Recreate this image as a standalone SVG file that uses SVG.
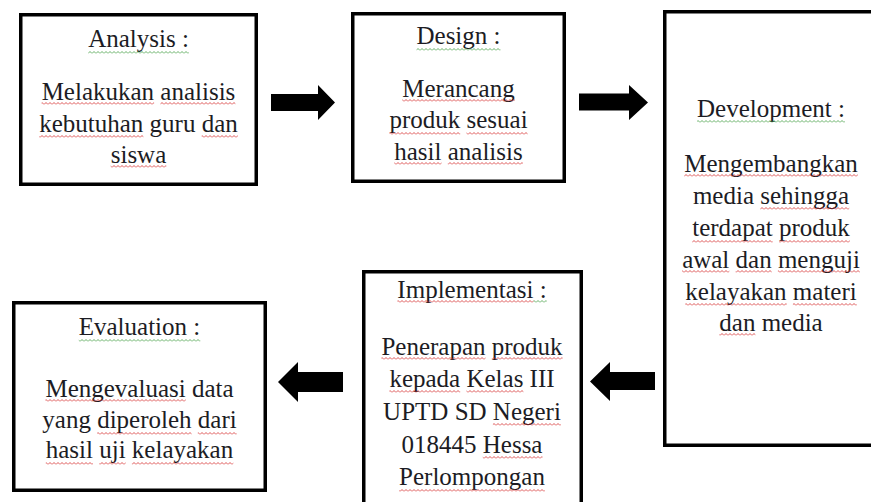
<svg xmlns="http://www.w3.org/2000/svg" width="871" height="502" viewBox="0 0 871 502">
<defs>
<pattern id="wr" patternUnits="userSpaceOnUse" x="0" y="0" width="4" height="3"><path d="M0,2.5 L2,0.5 L4,2.5" fill="none" stroke="#d42a2a" stroke-width="0.8"/></pattern>
<pattern id="wg" patternUnits="userSpaceOnUse" x="0" y="0" width="4" height="3"><path d="M0,2.5 L2,0.5 L4,2.5" fill="none" stroke="#3f9a3f" stroke-width="0.8"/></pattern>
</defs>
<style>
.box{fill:#fff;stroke:#000;stroke-width:3.5}
.t{font-family:'Liberation Serif','Times New Roman',serif;font-size:25px;fill:#1c1c24;text-anchor:middle}
.r{fill:url(#wr)}
.g{fill:url(#wg)}
.arrow{fill:#000}
</style>
<rect width="871" height="502" fill="#fff"/>
<g id="analysis">
<rect class="box" x="20.75" y="14.75" width="235.5" height="169.5"/>
<text class="t" x="138.5" y="47">Analysis :</text>
<text class="t" x="138.5" y="100">Melakukan analisis</text>
<text class="t" x="138.5" y="132">kebutuhan guru dan</text>
<text class="t" x="138.5" y="163">siswa</text>
<rect class="g" x="88.2" y="51" width="100.7" height="3"/>
<rect class="r" x="41.6" y="102" width="112.5" height="3"/>
<rect class="r" x="160.4" y="102" width="75" height="3"/>
<rect class="r" x="39.2" y="135" width="104.2" height="3"/>
<rect class="r" x="201.7" y="135" width="36.1" height="3"/>
<rect class="r" x="110.7" y="165" width="55.6" height="3"/>
</g>
<g id="design">
<rect class="box" x="352.75" y="13.75" width="211.5" height="167.5"/>
<text class="t" x="458.5" y="44">Design :</text>
<text class="t" x="458.5" y="97">Merancang</text>
<text class="t" x="458.5" y="128">produk sesuai</text>
<text class="t" x="458.5" y="160">hasil analisis</text>
<rect class="g" x="416.5" y="48" width="84" height="3"/>
<rect class="r" x="402.3" y="99" width="112.5" height="3"/>
<rect class="r" x="389.4" y="132" width="70.8" height="3"/>
<rect class="r" x="466.5" y="132" width="61.1" height="3"/>
<rect class="r" x="394.3" y="162" width="47.2" height="3"/>
<rect class="r" x="447.8" y="162" width="75" height="3"/>
</g>
<g id="development">
<rect class="box" x="664.75" y="11.75" width="215" height="433.5"/>
<text class="t" x="771" y="117">Development :</text>
<text class="t" x="771" y="172">Mengembangkan</text>
<text class="t" x="771" y="204">media sehingga</text>
<text class="t" x="771" y="236">terdapat produk</text>
<text class="t" x="771" y="268">awal dan menguji</text>
<text class="t" x="771" y="300">kelayakan materi</text>
<text class="t" x="771" y="331">dan media</text>
<rect class="g" x="697.1" y="120" width="147.9" height="3"/>
<rect class="r" x="684.2" y="174" width="173.6" height="3"/>
<rect class="r" x="760.3" y="207" width="88.9" height="3"/>
<rect class="r" x="692.2" y="240" width="80.5" height="3"/>
<rect class="r" x="779" y="240" width="70.8" height="3"/>
<rect class="r" x="682.1" y="270" width="47.2" height="3"/>
<rect class="r" x="735.6" y="270" width="36.1" height="3"/>
<rect class="r" x="777.9" y="270" width="82" height="3"/>
<rect class="r" x="685.3" y="303" width="101.4" height="3"/>
<rect class="r" x="792.9" y="303" width="63.9" height="3"/>
<rect class="r" x="719.3" y="333" width="36.1" height="3"/>
</g>
<g id="implementasi">
<rect class="box" x="363.75" y="271.75" width="217.5" height="250"/>
<text class="t" x="472" y="298">Implementasi :</text>
<text class="t" x="472" y="355">Penerapan produk</text>
<text class="t" x="472" y="387">kepada Kelas III</text>
<text class="t" x="472" y="420">UPTD SD Negeri</text>
<text class="t" x="472" y="453">018445 Hessa</text>
<text class="t" x="472" y="485">Perlompongan</text>
<rect class="r" x="397.4" y="300" width="136.1" height="3"/>
<rect class="g" x="533.5" y="300" width="13.2" height="3"/>
<rect class="r" x="381.4" y="357" width="104.1" height="3"/>
<rect class="r" x="491.8" y="357" width="70.8" height="3"/>
<rect class="r" x="389.4" y="390" width="70.8" height="3"/>
<rect class="r" x="466.5" y="390" width="56.9" height="3"/>
<rect class="r" x="492.9" y="423" width="68" height="3"/>
<rect class="r" x="482.8" y="456" width="59.7" height="3"/>
<rect class="r" x="399.1" y="489" width="145.8" height="3"/>
</g>
<g id="evaluation">
<rect class="box" x="13.75" y="302.75" width="251.5" height="187.5"/>
<text class="t" x="139.5" y="335">Evaluation :</text>
<text class="t" x="139.5" y="397">Mengevaluasi data</text>
<text class="t" x="139.5" y="428">yang diperoleh dari</text>
<text class="t" x="139.5" y="458">hasil uji kelayakan</text>
<rect class="g" x="78.8" y="339" width="121.5" height="3"/>
<rect class="r" x="45.4" y="399" width="140.3" height="3"/>
<rect class="r" x="97.2" y="432" width="94.4" height="3"/>
<rect class="r" x="197.8" y="432" width="38.9" height="3"/>
<rect class="r" x="45.8" y="462" width="47.2" height="3"/>
<rect class="r" x="99.2" y="462" width="26.4" height="3"/>
<rect class="r" x="131.9" y="462" width="101.4" height="3"/>
</g>
<g id="connectors">
<polygon class="arrow" points="271,94 318,94 318,85 335,102.5 318,120 318,111 271,111"/>
<polygon class="arrow" points="579,93.5 629,93.5 629,85 648,102.5 629,120 629,110.5 579,110.5"/>
<polygon class="arrow" points="655,372 610,372 610,362 590,381.5 610,401 610,390 655,390"/>
<polygon class="arrow" points="343,372 298,372 298,362 278,382 298,402 298,392 343,392"/>
</g>
</svg>
